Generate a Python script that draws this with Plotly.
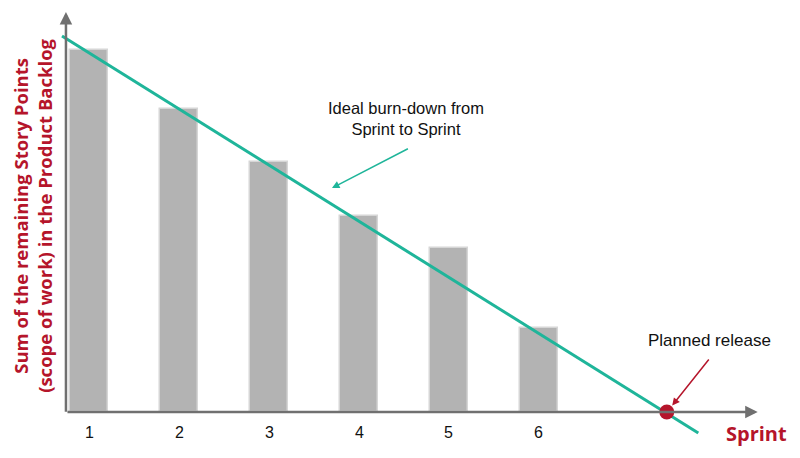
import plotly.graph_objects as go

# Data
sprints = [1, 2, 3, 4, 5, 6]
tick_labels = ["1", "2", "3", "4", "5", "6"]
remaining_points = [90.5, 75.75, 62.5, 49, 41, 21]
ideal_x = [0.7, 7.77]
ideal_y = [94, -5.25]
release_x = [7.42]
release_y = [0]

RED = "#b5152b"
TEAL = "#1fb59a"
GRAY_AX = "#707070"

fig = go.Figure()
fig.add_trace(go.Bar(
    x=sprints, y=remaining_points, width=0.43,
    marker=dict(color="#b3b3b3", line=dict(color="#d6d6d6", width=1.5)),
    showlegend=False, hoverinfo="skip"))
fig.add_trace(go.Scatter(
    x=ideal_x, y=ideal_y, mode="lines",
    line=dict(color=TEAL, width=3), showlegend=False))
fig.add_trace(go.Scatter(
    x=release_x, y=release_y, mode="markers",
    marker=dict(color=RED, size=15), showlegend=False))

FONT = "Liberation Sans, Arial"
ann = []
# axes with arrows
ann.append(dict(x=8.43, y=0, ax=0.744, ay=0, xref="x", yref="y", axref="x", ayref="y",
                showarrow=True, arrowhead=2, arrowsize=1, arrowwidth=2.5, arrowcolor=GRAY_AX, text=""))
ann.append(dict(x=0.744, y=100, ax=0.744, ay=-0.3, xref="x", yref="y", axref="x", ayref="y",
                showarrow=True, arrowhead=2, arrowsize=1, arrowwidth=2.5, arrowcolor=GRAY_AX, text=""))
# tick labels
for s, lab in zip(sprints, tick_labels):
    ann.append(dict(x=s, y=-5, xref="x", yref="y", text=lab, showarrow=False,
                    font=dict(family=FONT, size=16, color="#111111")))
# ideal annotation
ann.append(dict(x=4.52, y=73.3, xref="x", yref="y", text="Ideal burn-down from<br>Sprint to Sprint",
                showarrow=False, font=dict(family=FONT, size=16.5, color="#111111")))
ann.append(dict(x=3.7, y=56, ax=4.56, ay=66, xref="x", yref="y", axref="x", ayref="y",
                showarrow=True, arrowhead=2, arrowsize=1, arrowwidth=1.5, arrowcolor=TEAL, text=""))
# planned release annotation
ann.append(dict(x=7.89, y=18, xref="x", yref="y", text="Planned release",
                showarrow=False, font=dict(family=FONT, size=17, color="#111111")))
ann.append(dict(x=7.48, y=1.6, ax=7.9, ay=13.5, xref="x", yref="y", axref="x", ayref="y",
                showarrow=True, arrowhead=2, arrowsize=1, arrowwidth=1.5, arrowcolor=RED, text=""))
# axis titles
ann.append(dict(x=8.42, y=-5.3, xref="x", yref="y", text="<b>Sprint</b>", showarrow=False,
                font=dict(family="Open Sans", size=20, color=RED)))
ann.append(dict(x=0.365, y=49, xref="x", yref="y", textangle=-90,
                text="<b>Sum of the remaining Story Points<br>(scope of work) in the Product Backlog</b>",
                showarrow=False,
                font=dict(family="Open Sans", size=18.5, color=RED)))

# page body offsets the plot by 8px; ranges compensate so marks land where the reference has them
fig.update_layout(
    width=800, height=458,
    margin=dict(l=0, r=0, t=0, b=0),
    plot_bgcolor="white", paper_bgcolor="white",
    xaxis=dict(range=[0.1, 8.989], visible=False, fixedrange=True),
    yaxis=dict(range=[-13.5, 101], visible=False, fixedrange=True),
    annotations=ann,
    bargap=0,
)
fig.write_html("out.html")
